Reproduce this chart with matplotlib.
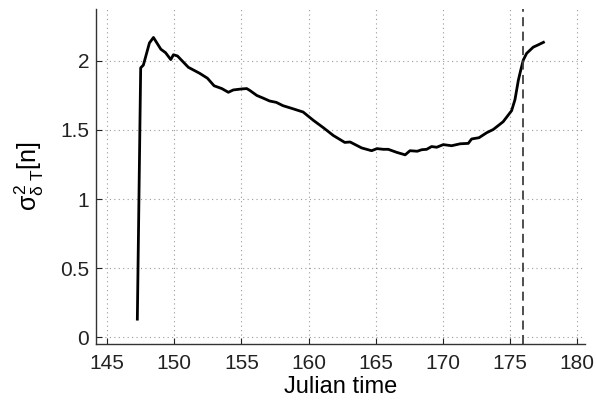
import numpy as np
import matplotlib
matplotlib.use("Agg")
import matplotlib.pyplot as plt

# ── Données ──────────────────────────────────────────────────────────────────

julian = [147.25, 147.5, 147.7, 148.15, 148.45, 149.0, 149.35, 149.74, 149.94,
          150.24, 151.05, 151.9, 152.47, 152.97, 153.54, 154.03, 154.4, 155.0,
          155.4, 155.65, 156.15, 156.64, 157.1, 157.6, 158.1, 158.8, 159.6,
          160.36, 161.1, 161.85, 162.7, 163.1, 163.96, 164.7, 165.1, 165.57,
          165.94, 166.57, 167.2, 167.56, 168.1, 168.43, 168.8, 169.17, 169.55,
          170.04, 170.66, 171.3, 171.9, 172.15, 172.7, 173.27, 173.77, 174.5,
          175.13, 175.38, 175.63, 175.8, 176.0, 176.25, 176.74, 177.1, 177.5]
variance = [0.13, 1.95, 1.97, 2.13, 2.17, 2.085, 2.06, 2.01, 2.045,
            2.036, 1.954, 1.91, 1.875, 1.82, 1.80, 1.773, 1.79, 1.797,
            1.80, 1.785, 1.75, 1.73, 1.71, 1.70, 1.676, 1.655, 1.63,
            1.57, 1.517, 1.46, 1.41, 1.413, 1.37, 1.35, 1.365, 1.36,
            1.36, 1.338, 1.32, 1.35, 1.346, 1.357, 1.36, 1.38, 1.375,
            1.394, 1.386, 1.40, 1.403, 1.435, 1.444, 1.48, 1.504, 1.56,
            1.64, 1.72, 1.86, 1.93, 2.007, 2.055, 2.10, 2.116, 2.135]
t_event = 176.0

xticks = [145, 150, 155, 160, 165, 170, 175, 180]
yticks = [0, 0.5, 1, 1.5, 2]
ytick_labels = ["0", "0.5", "1", "1.5", "2"]

# ── Figure ───────────────────────────────────────────────────────────────────

plt.rcParams["font.family"] = ["Liberation Sans", "DejaVu Sans"]
plt.rcParams["mathtext.fontset"] = "custom"
plt.rcParams["mathtext.rm"] = "Liberation Sans"
plt.rcParams["mathtext.it"] = "Liberation Sans"
plt.rcParams["mathtext.sf"] = "Liberation Sans"

fig = plt.figure(figsize=(5.97, 4.04), dpi=100)
ax = fig.add_axes([0.161, 0.1485, 0.819, 0.8295])

ax.plot(julian, variance, color="black", lw=2.0, solid_joinstyle="round")
ax.axvline(t_event, color="#404040", lw=1.3, ls=(0, (5, 3)))

ax.set_xlim(144.18, 180.6)
ax.set_ylim(-0.05, 2.377)
ax.set_xticks(xticks)
ax.set_yticks(yticks)
ax.set_yticklabels(ytick_labels)

ax.grid(True, color="#9a9a9a", ls=(0, (1, 3)), lw=0.8)
for s in ("top", "right"):
    ax.spines[s].set_visible(False)
for s in ("left", "bottom"):
    ax.spines[s].set_color("#333333")
    ax.spines[s].set_linewidth(1.0)
ax.tick_params(direction="in", length=4, width=0.8, labelsize=15,
               colors="#222222")
ax.tick_params(axis="x", pad=7)
ax.tick_params(axis="y", pad=5)

ax.set_xlabel("Julian time", fontsize=17, labelpad=2)
ax.set_ylabel(r"$\sigma^2_{\delta\ T}$[n]", fontsize=18, labelpad=10)

fig.savefig("out.png", dpi=100)
